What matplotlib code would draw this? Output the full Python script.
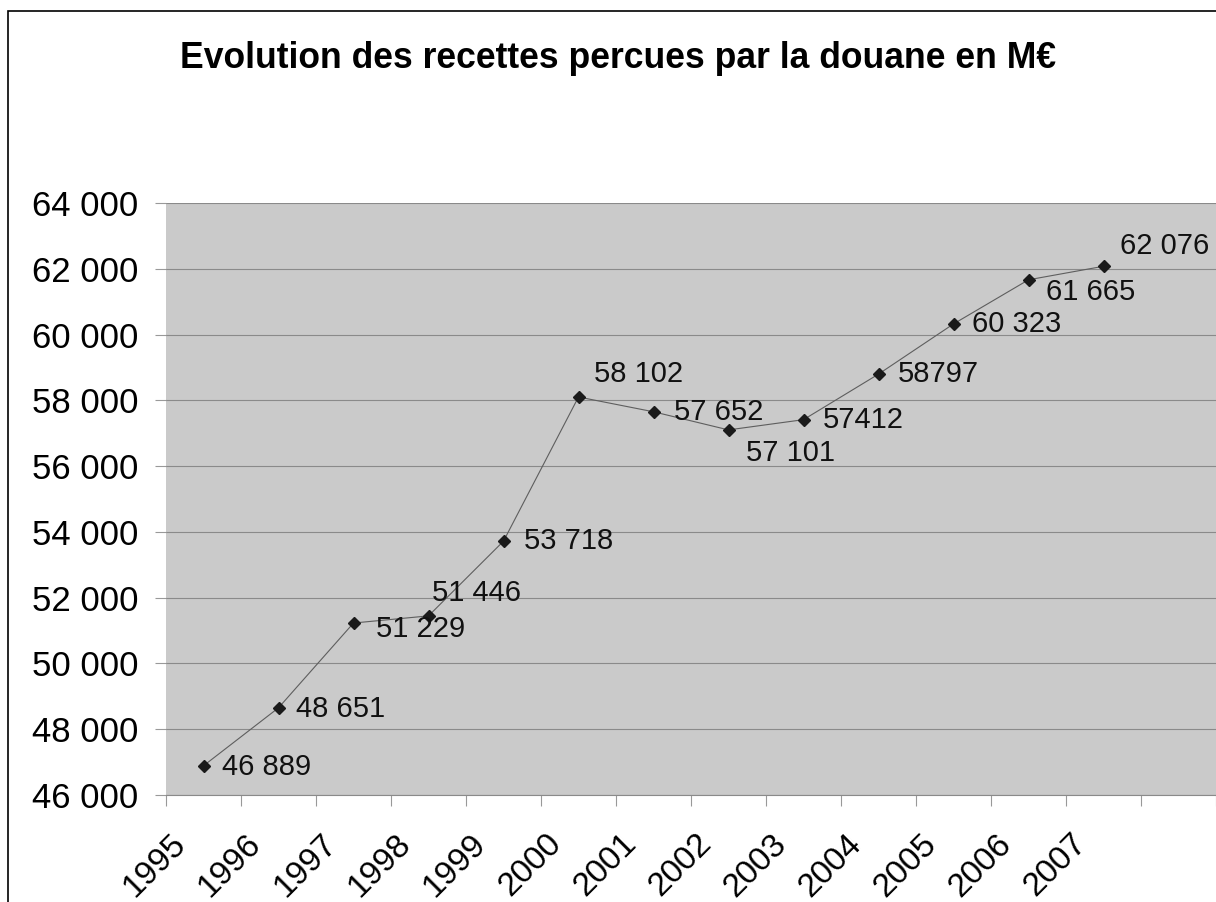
import matplotlib.pyplot as plt
from matplotlib.patches import Rectangle
from matplotlib.ticker import FixedLocator, FuncFormatter
from matplotlib import transforms

plt.rcParams["font.family"] = ["Liberation Sans", "DejaVu Sans"]

years = ["1995", "1996", "1997", "1998", "1999", "2000", "2001",
         "2002", "2003", "2004", "2005", "2006", "2007"]
recettes = [46889, 48651, 51229, 51446, 53718, 58102, 57652,
            57101, 57412, 58797, 60323, 61665, 62076]
value_labels = ["46 889", "48 651", "51 229", "51 446", "53 718", "58 102", "57 652",
                "57 101", "57412", "58797", "60 323", "61 665", "62 076"]
# label offsets in pixels (left edge dx, centre dy upward)
label_dx = [18, 18, 23, 3, 20, 15, 20, 18, 19, 19, 18, 17, 17]
label_dy = [-1, -1, -6, 23, 0, 23, 0, -23, 0, 0, 0, -12, 20]

W, H = 1216, 902
fig = plt.figure(figsize=(W / 100, H / 100), dpi=100)
fig.patches.append(Rectangle((8 / W, -0.1), 1.2, (H - 11) / H + 0.1,
                             transform=fig.transFigure, fill=False,
                             edgecolor="black", linewidth=1.2))

ax = fig.add_axes([166 / W, (H - 795) / H, (W - 166) / W, (795 - 203) / H])
ax.set_facecolor("#cacaca")
n_bins = 14
x = [i + 0.5 for i in range(len(years))]

ax.plot(x, recettes, color="#5e5e5e", linewidth=0.8, marker="D",
        markersize=6.5, markerfacecolor="#1a1a1a", markeredgecolor="#1a1a1a", zorder=3)

for xi, yi, txt, dx, dy in zip(x, recettes, value_labels, label_dx, label_dy):
    off = transforms.offset_copy(ax.transData, fig=fig, x=dx * 0.72, y=dy * 0.72, units="points")
    ax.text(xi, yi, txt, transform=off, ha="left", va="center", fontsize=21, color="#111111")

ax.set_xlim(0, n_bins)
ax.set_ylim(46000, 64000)
ax.set_yticks(range(46000, 64001, 2000))
ax.yaxis.set_major_formatter(FuncFormatter(lambda v, p: f"{int(v):,}".replace(",", " ")))
ax.grid(axis="y", color="#8a8a8a", linewidth=0.8)
ax.set_axisbelow(True)

ax.set_xticks(x)
ax.set_xticklabels(years, rotation=45, ha="right", va="center", rotation_mode="anchor")
ax.xaxis.set_minor_locator(FixedLocator(range(n_bins + 1)))
ax.tick_params(axis="x", which="major", length=0, pad=26, labelsize=24)
ax.tick_params(axis="x", which="minor", length=8, color="#999999", width=0.8)
ax.tick_params(axis="y", length=8, color="#999999", width=0.8, pad=12, labelsize=25)
shift = transforms.ScaledTranslation(-0.22, -0.08, fig.dpi_scale_trans)
for lbl in ax.get_xticklabels():
    lbl.set_transform(lbl.get_transform() + shift)

for side in ["top", "right", "left"]:
    ax.spines[side].set_visible(False)
ax.spines["bottom"].set_color("#8a8a8a")
ax.spines["bottom"].set_linewidth(0.8)

fig.text(618 / W, 1 - 58 / H, "Evolution des recettes percues par la douane en M€",
         ha="center", va="center", fontsize=25.6, fontweight="bold")

fig.savefig("out.png", dpi=100)
